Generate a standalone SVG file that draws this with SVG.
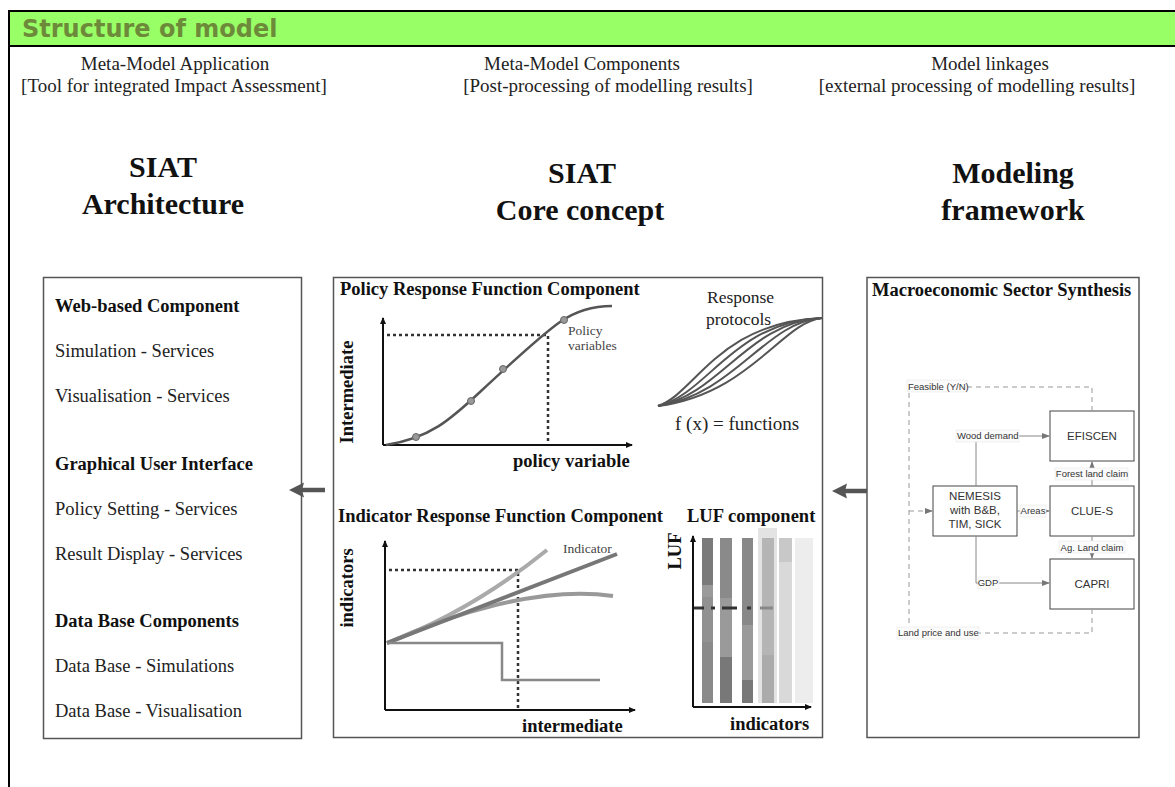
<svg xmlns="http://www.w3.org/2000/svg" width="1175" height="787" viewBox="0 0 1175 787">
<style>
.serif{font-family:"Liberation Serif","Times New Roman",serif;fill:#222}
.hdr{font-size:19px;text-anchor:middle}
.big{font-size:30px;font-weight:bold;text-anchor:middle;fill:#111}
.b{font-size:18.5px;font-weight:bold;fill:#111}
.r{font-size:18.5px}
.sm{font-size:13.5px;fill:#444}
.sans{font-family:"Liberation Sans",Arial,sans-serif;fill:#333}
.fl{font-size:9.5px}
.bx{font-size:11.5px;text-anchor:middle}
.panel{fill:#fff;stroke:#555;stroke-width:1.5}
.axis{stroke:#111;stroke-width:2;fill:none}
.dot{stroke:#333;stroke-width:2.5;stroke-dasharray:3,3;fill:none}
.fbox{fill:#fff;stroke:#444;stroke-width:1}
.fline{stroke:#888;stroke-width:1;fill:none}
.fdash{stroke:#999;stroke-width:1;stroke-dasharray:5,4;fill:none}
.lbg{fill:#fbfbfb;stroke:#e6e6e6;stroke-width:0.6}
.shaft{stroke:#555;stroke-width:4.5;fill:none}
.head{fill:#555}
</style>
<defs>
<marker id="ax" markerWidth="8" markerHeight="8" refX="6" refY="4" orient="auto" markerUnits="userSpaceOnUse">
<path d="M0,1 L7,4 L0,7 Z" fill="#111"/>
</marker>
<marker id="fa" markerWidth="8" markerHeight="8" refX="7" refY="4" orient="auto" markerUnits="userSpaceOnUse">
<path d="M0,1 L8,4 L0,7 Z" fill="#777"/>
</marker>
</defs>

<!-- frame / header -->
<g id="header">
<rect x="9" y="11" width="1166" height="35" fill="#99ff66"/>
<line x1="9" y1="11" x2="1175" y2="11" stroke="#000" stroke-width="2"/>
<line x1="9" y1="46" x2="1175" y2="46" stroke="#000" stroke-width="2"/>
<line x1="9" y1="10" x2="9" y2="787" stroke="#000" stroke-width="2"/>
<text x="22" y="37" font-family="DejaVu Sans,Verdana,sans-serif" font-weight="bold" font-size="24" fill="#6d8a3a">Structure of model</text>
</g>

<g id="column-headers" class="serif">
<text class="serif hdr" x="175" y="70">Meta-Model Application</text>
<text class="serif hdr" x="174" y="92">[Tool for integrated Impact Assessment]</text>
<text class="serif hdr" x="582" y="70">Meta-Model Components</text>
<text class="serif hdr" x="608" y="92">[Post-processing of modelling results]</text>
<text class="serif hdr" x="990" y="70">Model linkages</text>
<text class="serif hdr" x="977" y="92">[external processing of modelling results]</text>
</g>

<g id="titles">
<text class="serif big" x="163" y="177">SIAT</text>
<text class="serif big" x="163" y="214">Architecture</text>
<text class="serif big" x="582" y="183">SIAT</text>
<text class="serif big" x="580" y="220">Core concept</text>
<text class="serif big" x="1013" y="183">Modeling</text>
<text class="serif big" x="1013" y="220">framework</text>
</g>

<!-- left panel -->
<g id="architecture">
<rect class="panel" x="43.5" y="277.5" width="258" height="461"/>
<text class="serif b" x="55" y="312">Web-based Component</text>
<text class="serif r" x="55" y="357">Simulation - Services</text>
<text class="serif r" x="55" y="402">Visualisation - Services</text>
<text class="serif b" x="55" y="470">Graphical User Interface</text>
<text class="serif r" x="55" y="515">Policy Setting - Services</text>
<text class="serif r" x="55" y="560">Result Display - Services</text>
<text class="serif b" x="55" y="627">Data Base Components</text>
<text class="serif r" x="55" y="672">Data Base - Simulations</text>
<text class="serif r" x="55" y="717">Data Base - Visualisation</text>
</g>

<!-- middle panel -->
<g id="core-concept">
<rect class="panel" x="333.5" y="277.5" width="489" height="460"/>

<g id="policy-response">
<text class="serif b" x="340" y="295">Policy Response Function Component</text>
<line class="axis" x1="383" y1="445" x2="383" y2="318" marker-end="url(#ax)"/>
<line class="axis" x1="383" y1="445" x2="632" y2="445" marker-end="url(#ax)"/>
<polyline class="dot" points="387,335 548,335 548,444"/>
<path d="M386,445 C430,438 450,420 480,392 S540,336 560,322 S600,306 612,306" fill="none" stroke="#555" stroke-width="2.5"/>
<g fill="#999" stroke="#666" stroke-width="1">
<circle cx="416" cy="437" r="3.5"/>
<circle cx="471" cy="401" r="3.5"/>
<circle cx="503" cy="369" r="3.5"/>
<circle cx="564" cy="320" r="3.5"/>
</g>
<text class="serif sm" x="568" y="335">Policy</text>
<text class="serif sm" x="568" y="350">variables</text>
<text class="serif b" text-anchor="middle" transform="translate(353,392) rotate(-90)">Intermediate</text>
<text class="serif b" x="513" y="467">policy variable</text>
</g>

<g id="response-protocols">
<text class="serif" x="707" y="303" font-size="17.5" fill="#333">Response</text>
<text class="serif" x="706" y="325" font-size="17.5" fill="#333">protocols</text>
<g fill="none" stroke="#555" stroke-width="2">
<path d="M658,406 C695,394 718,322 822,318"/>
<path d="M658,406 C708,394 733,322 822,318"/>
<path d="M658,406 C721,394 748,322 822,318"/>
<path d="M658,406 C735,394 765,322 822,318"/>
<path d="M658,406 C750,394 782,322 822,318"/>
</g>
<text class="serif" x="675" y="430" font-size="19" fill="#222">f (x) = functions</text>
</g>

<g id="indicator-response">
<text class="serif b" x="338" y="522">Indicator Response Function Component</text>
<line class="axis" x1="385" y1="710" x2="385" y2="541" marker-end="url(#ax)"/>
<line class="axis" x1="385" y1="710" x2="635" y2="710" marker-end="url(#ax)"/>
<polyline class="dot" points="389,570 518,570 518,709"/>
<path d="M387,643 Q470,612 547,550" fill="none" stroke="#aaa" stroke-width="4"/>
<path d="M387,643 C450,615 540,585 613,596" fill="none" stroke="#999" stroke-width="4"/>
<path d="M387,643 L617,554" fill="none" stroke="#777" stroke-width="4"/>
<polyline points="387,643 502,643 502,680 600,680" fill="none" stroke="#888" stroke-width="2.5"/>
<text class="serif sm" x="563" y="553">Indicator</text>
<text class="serif b" text-anchor="middle" transform="translate(353,588) rotate(-90)">indicators</text>
<text class="serif b" x="522" y="732">intermediate</text>
</g>

<g id="luf-component">
<text class="serif b" x="687" y="522">LUF component</text>
<rect x="758" y="528" width="19" height="175" fill="#e3e3e3"/>
<rect x="702" y="538" width="11" height="47" fill="#7a7a7a"/>
<rect x="702" y="585" width="11" height="12" fill="#9a9a9a"/>
<rect x="702" y="597" width="11" height="45" fill="#919191"/>
<rect x="702" y="642" width="11" height="61" fill="#8a8a8a"/>
<rect x="720" y="538" width="12" height="60" fill="#8a8a8a"/>
<rect x="720" y="598" width="12" height="59" fill="#9a9a9a"/>
<rect x="720" y="657" width="12" height="46" fill="#787878"/>
<rect x="742" y="538" width="11" height="87" fill="#888"/>
<rect x="742" y="625" width="11" height="55" fill="#9a9a9a"/>
<rect x="742" y="680" width="11" height="23" fill="#787878"/>
<rect x="762" y="538" width="12" height="117" fill="#b5b5b5"/>
<rect x="762" y="655" width="12" height="48" fill="#ababab"/>
<rect x="779" y="538" width="13" height="24" fill="#c8c8c8"/>
<rect x="779" y="562" width="13" height="141" fill="#d9d9d9"/>
<rect x="795" y="538" width="18" height="165" fill="#ededed"/>
<g stroke-width="3">
<line x1="693" y1="608" x2="704" y2="608" stroke="#333"/>
<line x1="711" y1="608" x2="715" y2="608" stroke="#333"/>
<line x1="722" y1="608" x2="737" y2="608" stroke="#333"/>
<line x1="747" y1="608" x2="751" y2="608" stroke="#333"/>
<line x1="760" y1="608" x2="773" y2="608" stroke="#888"/>
</g>
<line class="axis" x1="693" y1="707" x2="693" y2="536" marker-end="url(#ax)"/>
<line class="axis" x1="693" y1="707" x2="811" y2="707" marker-end="url(#ax)"/>
<text class="serif b" text-anchor="middle" transform="translate(681,551) rotate(-90)">LUF</text>
<text class="serif b" x="730" y="730">indicators</text>
</g>
</g>

<!-- right panel -->
<g id="modeling-framework">
<rect class="panel" x="867" y="277.5" width="272" height="460"/>
<text class="serif b" x="872" y="296">Macroeconomic Sector Synthesis</text>

<g id="efiscen">
<rect class="fbox" x="1050" y="411" width="84" height="50"/>
<text class="sans bx" x="1092" y="440">EFISCEN</text>
</g>
<g id="nemesis">
<rect class="fbox" x="933" y="486" width="84" height="50"/>
<text class="sans bx" x="975" y="500">NEMESIS</text>
<text class="sans bx" x="975" y="514">with B&amp;B,</text>
<text class="sans bx" x="975" y="528">TIM, SICK</text>
</g>
<g id="clue-s">
<rect class="fbox" x="1050" y="486" width="84" height="50"/>
<text class="sans bx" x="1092" y="515">CLUE-S</text>
</g>
<g id="capri">
<rect class="fbox" x="1050" y="559" width="84" height="50"/>
<text class="sans bx" x="1092" y="588">CAPRI</text>
</g>

<g id="connectors">
<path class="fdash" d="M967,387 H1092 V411"/>
<path class="fdash" d="M909,393 V626"/>
<path class="fdash" d="M909,511 H932" marker-end="url(#fa)"/>
<path class="fdash" d="M1092,609 V633 H979"/>
<path class="fline" d="M1019,436 H1049" marker-end="url(#fa)"/>
<path class="fline" d="M976,441 V486"/>
<path class="fline" d="M1017,511 H1021"/>
<path class="fline" d="M1045,511 H1049" marker-end="url(#fa)"/>
<path class="fline" d="M1092,486 V480"/>
<path class="fline" d="M1092,469 V462" marker-end="url(#fa)"/>
<path class="fline" d="M1092,536 V541"/>
<path class="fline" d="M1092,553 V558" marker-end="url(#fa)"/>
<path class="fline" d="M976,536 V583 H978"/>
<path class="fline" d="M999,583 H1049" marker-end="url(#fa)"/>
<rect class="lbg" x="907" y="380" width="60" height="12"/>
<text class="sans fl" x="908" y="390">Feasible (Y/N)</text>
<rect class="lbg" x="956" y="430" width="63" height="12"/>
<text class="sans fl" x="957" y="439">Wood demand</text>
<rect class="lbg" x="1055" y="468" width="73" height="12"/>
<text class="sans fl" x="1092" y="477" text-anchor="middle">Forest land claim</text>
<rect class="lbg" x="1020" y="505" width="26" height="12"/>
<text class="sans fl" x="1033" y="514" text-anchor="middle">Areas</text>
<rect class="lbg" x="1059" y="541" width="66" height="12"/>
<text class="sans fl" x="1092" y="551" text-anchor="middle">Ag. Land claim</text>
<rect class="lbg" x="978" y="577" width="21" height="12"/>
<text class="sans fl" x="988" y="586" text-anchor="middle">GDP</text>
<rect class="lbg" x="897" y="627" width="82" height="12"/>
<text class="sans fl" x="898" y="636">Land price and use</text>
</g>
</g>

<!-- panel arrows -->
<g id="panel-connectors">
<line class="shaft" x1="325" y1="490" x2="301" y2="490"/>
<polygon class="head" points="289,490 304,482.5 302,490 304,497.5"/>
<line class="shaft" x1="867" y1="491" x2="844" y2="491"/>
<polygon class="head" points="832,491 847,483.5 845,491 847,498.5"/>
</g>
</svg>
